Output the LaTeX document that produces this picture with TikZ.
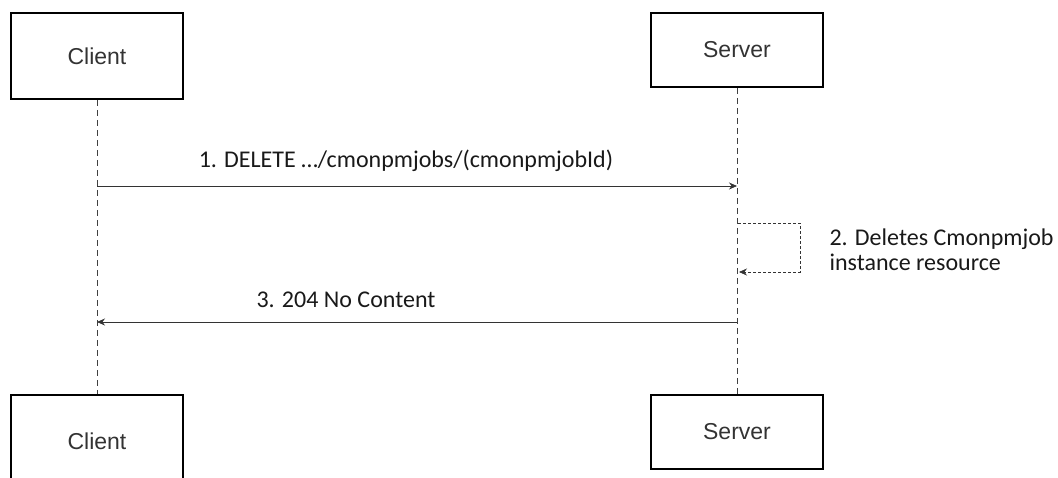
\documentclass[tikz,border=0pt]{standalone}
\usepackage{fontspec}
\setmainfont{Liberation Sans}
\newfontfamily\msgfont{Carlito}
\usetikzlibrary{arrows.meta,positioning,calc}

\begin{document}
\begin{tikzpicture}[x=1pt, y=-1pt,
    actor/.style={draw, line width=1.6pt, minimum width=172pt, align=center, text=black!80, font=\fontsize{23}{26}\selectfont},
    lifeline/.style={dash pattern=on 6pt off 4pt, line width=0.8pt, draw=black!75},
    msg/.style={-{Stealth[length=8pt,width=7pt]}, line width=0.8pt, draw=black!80},
    selfmsg/.style={-{Stealth[length=8pt,width=7pt]}, densely dashed, line width=0.7pt, draw=black!80},
    msglabel/.style={anchor=base, font=\msgfont\fontsize{24}{26}\selectfont, text=black!90}]
\useasboundingbox (0,0) rectangle (1058,477);

\node[actor, minimum height=86pt](ct) at (97,56) {Client};
\node[actor, minimum height=74pt](st) at (737,50) {Server};
\node[actor, minimum height=92pt](cb) at (97,441) {Client};
\node[actor, minimum height=74pt](sb) at (737,432) {Server};

\draw[lifeline] (ct) -- (cb);
\draw[lifeline] (st) -- (sb);

% 1. request
\coordinate(m1c) at (97,186);
\coordinate(m1s) at (737,186);
\node[msglabel](l1) at (406,167) {1. DELETE …/cmonpmjobs/(cmonpmjobId)};
\draw[msg] (m1c) -- (m1s);

% 2. self message
\coordinate(m2a) at (738,223);
\coordinate(m2b) at (800,223);
\coordinate(m2c) at (800,272);
\coordinate(m2d) at (739,272);
\node[msglabel, anchor=base west](l2) at (826,245) {2. Deletes Cmonpmjob};
\node[msglabel, anchor=base west](l2b) at (826,270) {instance resource};
\draw[selfmsg] (m2a) -- (m2b) -- (m2c) -- (m2d);

% 3. response
\coordinate(m3s) at (737,322);
\coordinate(m3c) at (97,322);
\node[msglabel](l3) at (346,307) {3. 204 No Content};
\draw[msg] (m3s) -- (m3c);
\end{tikzpicture}
\end{document}
